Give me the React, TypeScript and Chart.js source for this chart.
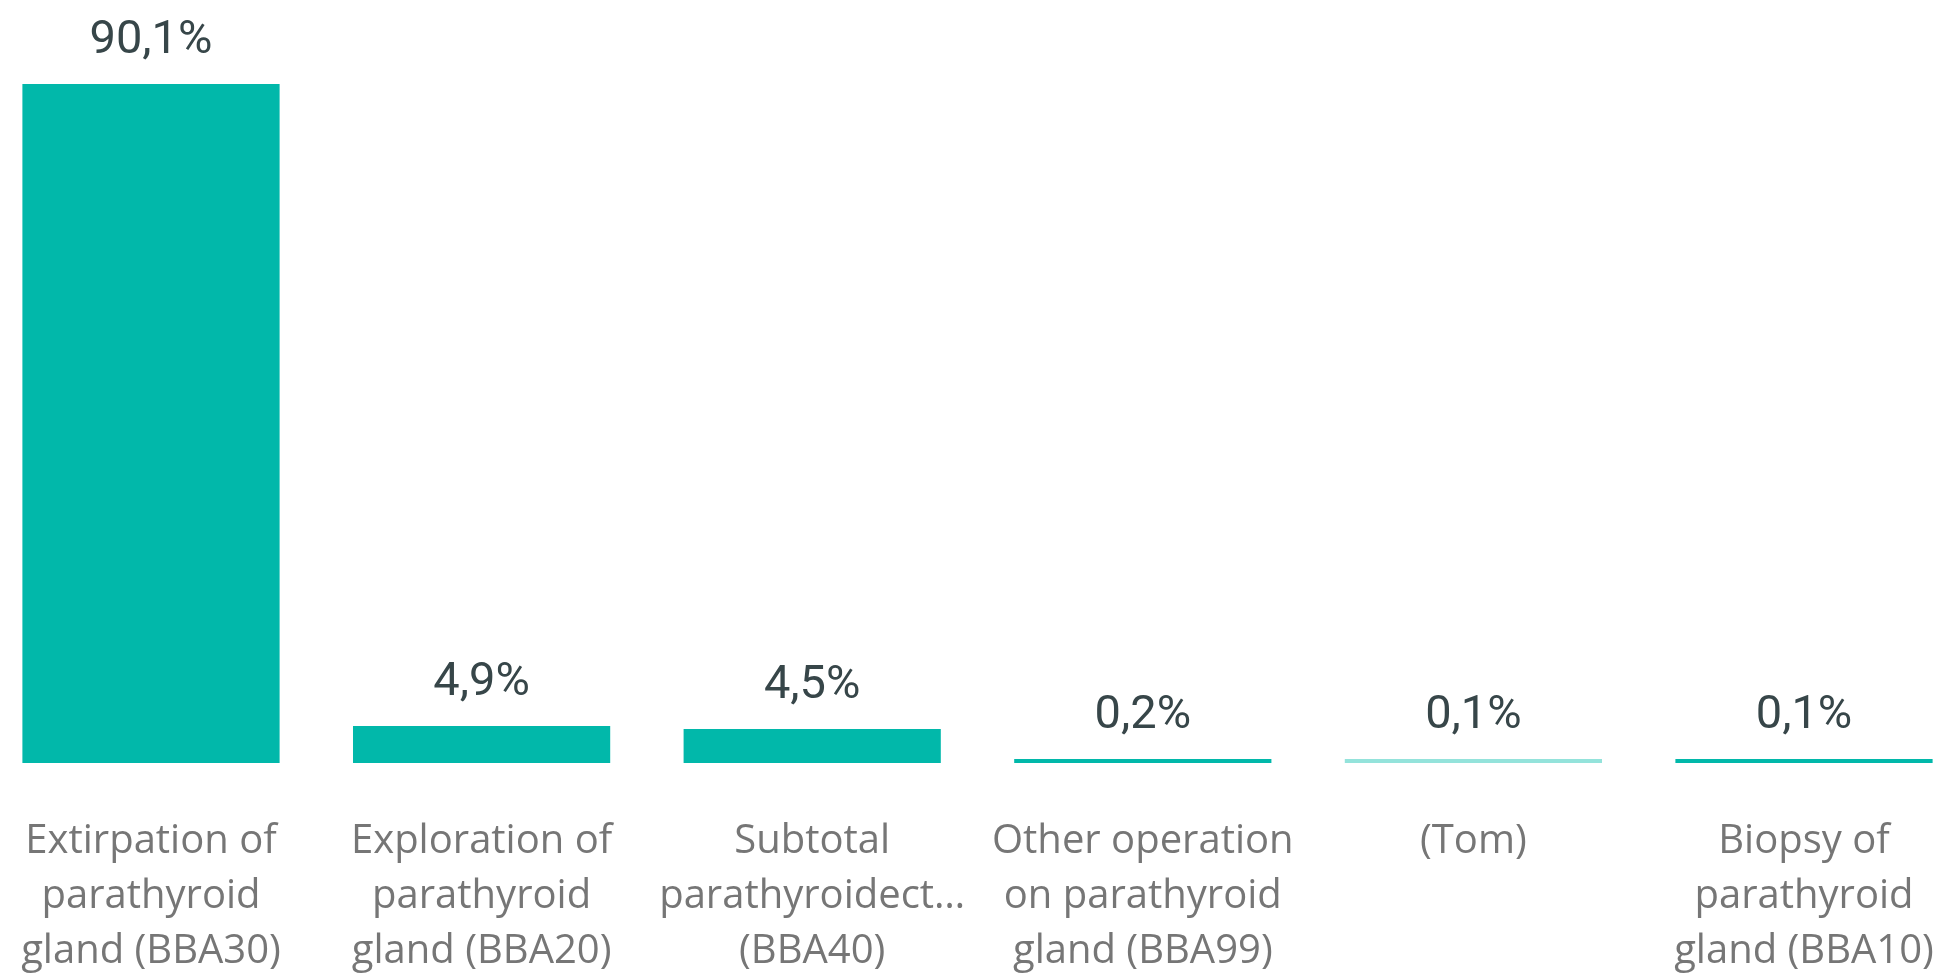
import React, { useEffect, useRef } from "react";
import { Chart, registerables } from "chart.js";

Chart.register(...registerables);

const categories: string[][] = [
  ["Extirpation of", "parathyroid", "gland (BBA30)"],
  ["Exploration of", "parathyroid", "gland (BBA20)"],
  ["Subtotal", "parathyroidect…", "(BBA40)"],
  ["Other operation", "on parathyroid", "gland (BBA99)"],
  ["(Tom)"],
  ["Biopsy of", "parathyroid", "gland (BBA10)"],
];

const shares: number[] = [90.1, 4.9, 4.5, 0.2, 0.1, 0.1];

const barColors: string[] = ["#01B8AA", "#01B8AA", "#01B8AA", "#01B8AA", "#94E3DB", "#01B8AA"];

const formatShare = (v: number) => v.toFixed(1).replace(".", ",") + "%";

const TICK_PADDING = 51;
const AXIS_GAP = 46;
const TICK_FONT_SIZE = 40;
const TICK_LINE_HEIGHT = 1.375;

const valueLabelPlugin = {
  id: "valueLabels",
  afterDatasetsDraw(chart: any) {
    const ctx = chart.ctx;
    const meta = chart.getDatasetMeta(0);
    ctx.save();
    ctx.font = "400 47px Roboto, sans-serif";
    ctx.fillStyle = "#374649";
    ctx.textAlign = "center";
    ctx.textBaseline = "alphabetic";
    meta.data.forEach((el: any, i: number) => {
      const v = chart.data.datasets[0].data[i] as number;
      ctx.fillText(formatShare(v), el.x, el.y - 31);
    });
    ctx.restore();
  },
};

export default function App() {
  const canvasRef = useRef<HTMLCanvasElement | null>(null);

  useEffect(() => {
    if (!canvasRef.current) return;
    const maxLines = Math.max(...categories.map((c) => c.length));
    const chart = new Chart(canvasRef.current, {
      type: "bar",
      data: {
        labels: categories,
        datasets: [
          {
            data: shares,
            backgroundColor: barColors,
            borderWidth: 0,
            minBarLength: 4,
            categoryPercentage: 1,
            barPercentage: 0.778,
            clip: false as any,
          },
        ],
      },
      options: {
        animation: false,
        responsive: false,
        layout: { padding: { left: 151, right: 143, top: 84, bottom: 5 } },
        plugins: {
          legend: { display: false },
          tooltip: { enabled: false },
        },
        scales: {
          x: {
            offset: false,
            grid: { display: false, drawTicks: false },
            border: { display: false },
            ticks: {
              autoSkip: false,
              maxRotation: 0,
              minRotation: 0,
              padding: TICK_PADDING,
              color: "#767676",
              font: { family: "'Open Sans', sans-serif", size: TICK_FONT_SIZE, lineHeight: TICK_LINE_HEIGHT },
            },
            afterFit(scale: any) {
              scale.paddingLeft = 0;
              scale.paddingRight = 0;
              scale.height = AXIS_GAP + maxLines * TICK_FONT_SIZE * TICK_LINE_HEIGHT;
            },
          },
          y: {
            display: false,
            min: 0,
            max: 90.1,
          },
        },
      },
      plugins: [valueLabelPlugin],
    });
    return () => chart.destroy();
  }, []);

  return (
    <div style={{ position: "fixed", left: 0, top: 0, width: 1947, height: 979, background: "#fff" }}>
      <canvas ref={canvasRef} width={1947} height={979} style={{ width: 1947, height: 979, display: "block" }} />
    </div>
  );
}
